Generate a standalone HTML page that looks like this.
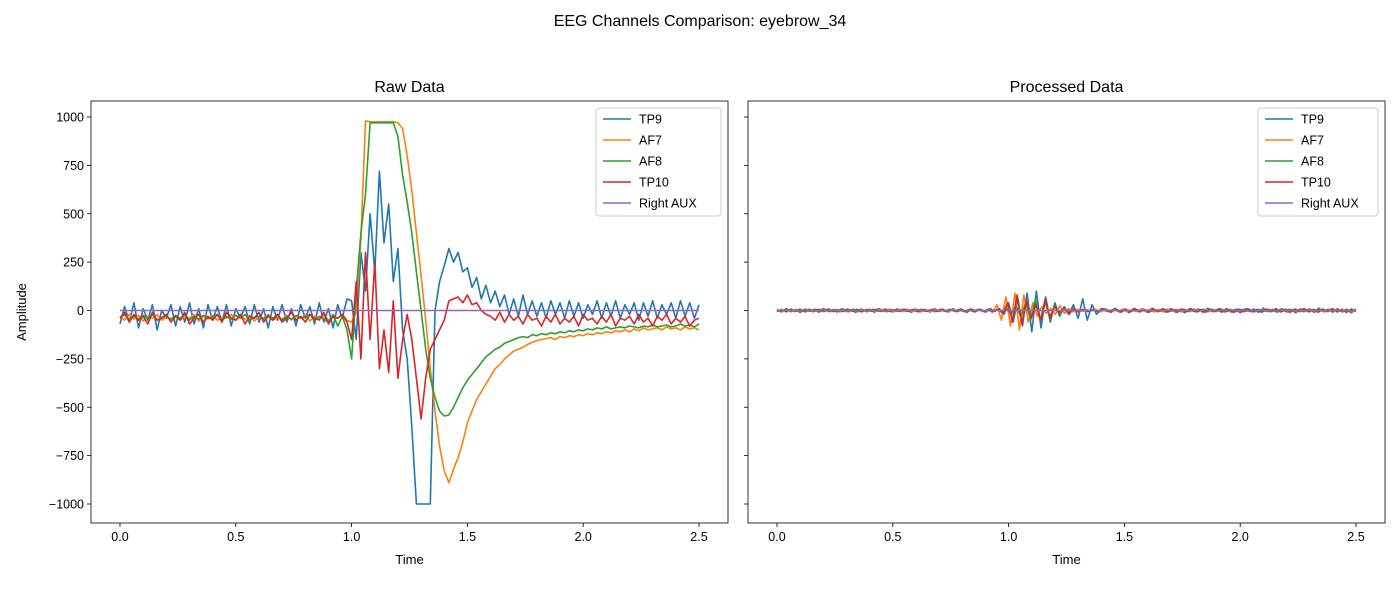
<!DOCTYPE html>
<html><head><meta charset="utf-8">
<style>
body{margin:0;background:#fff;}
svg{display:block;font-family:"Liberation Sans","DejaVu Sans",sans-serif;}
</style></head>
<body>
<svg id="chart" width="1400" height="600" viewBox="0 0 1400 600">
<rect width="1400" height="600" fill="#fff"/>
<text x="700" y="26" text-anchor="middle" font-size="16">EEG Channels Comparison: eyebrow_34</text>
</svg>
<script>
const channels = ["TP9","AF7","AF8","TP10","Right AUX"];
const colors = ["#1f77b4","#ff7f0e","#2ca02c","#d62728","#9467bd"];
const xTicks = [0,0.5,1.0,1.5,2.0,2.5];
const xTickLabels = ["0.0","0.5","1.0","1.5","2.0","2.5"];
const yTicks = [1000,750,500,250,0,-250,-500,-750,-1000];
const yTickLabels = ["1000","750","500","250","0","\u2212250","\u2212500","\u2212750","\u22121000"];

const rawTP9 = [-70,20,-60,40,-90,10,-50,30,-100,0,-40,30,-80,20,-60,40,-70,10,-90,30,-50,20,-60,30,-80,10,-40,20,-70,30,-60,10,-90,20,-50,30,-60,10,-80,30,-40,20,-70,40,-60,10,-90,30,-40,60,
50,-150,300,100,500,200,720,350,550,150,320,-100,-250,-600,-1000,-1000,-1000,-1000,0,150,230,320,250,300,200,220,120,170,60,130,40,100,20,80,-20,60,-30,80,
-20,50,-30,40,-40,50,-20,40,-40,50,-30,40,-40,30,-20,50,-40,40,-30,50,-40,30,-20,40,-50,40,-30,50,-40,30,-20,40,-40,50,-30,40,-40,30];
const rawAF7 = [-30,-50,-20,-45,-25,-55,-30,-40,-20,-50,-35,-45,-25,-50,-30,-40,-20,-55,-30,-45,-25,-50,-35,-40,-20,-50,-30,-45,-25,-55,-30,-40,-20,-50,-35,-45,-25,-50,-30,-40,-20,-55,-30,-45,-25,-50,-35,-40,-20,-50,-60,-10,
370,980,975,975,975,975,975,975,970,940,800,620,400,180,-50,-300,-520,-700,-830,-890,-820,-760,-680,-580,-520,-460,-420,-380,-340,-300,-280,-250,-230,-210,-200,-190,-175,-165,-155,-150,
-145,-140,-150,-135,-140,-130,-135,-125,-130,-120,-125,-115,-120,-110,-115,-105,-110,-100,-110,-95,-105,-90,-100,-95,-90,-100,-85,-95,-90,-100,-85,-95,-90,-100];
const rawAF8 = [-40,-20,-50,-30,-45,-25,-40,-20,-50,-35,-30,-45,-25,-40,-20,-50,-30,-45,-25,-40,-35,-20,-50,-30,-45,-25,-40,-20,-50,-35,-30,-45,-25,-40,-20,-50,-30,-45,-25,-40,-35,-20,-50,-30,-45,-60,-20,-80,-30,-100,
-250,100,400,600,970,970,970,970,970,970,900,700,560,400,200,0,-200,-350,-450,-520,-545,-540,-500,-450,-400,-360,-330,-300,-270,-240,-220,-200,-190,-170,-160,-150,-140,
-135,-140,-125,-130,-120,-125,-115,-120,-110,-115,-105,-110,-100,-105,-95,-100,-90,-95,-85,-95,-90,-85,-90,-80,-85,-90,-80,-85,-75,-85,-80,-75,-85,-80,-70,-80,-75,-85,-70];
const rawTP10 = [-40,-10,-60,-20,-50,-30,-70,-10,-50,-40,-20,-60,-30,-50,-10,-70,-40,-20,-60,-30,-50,-20,-60,-10,-40,-50,-20,-70,-30,-40,-10,-60,-30,-50,-20,-60,-40,-10,-50,-30,-60,-20,-40,-50,-10,-70,-30,-40,-20,-60,
-150,150,-250,300,-150,250,-300,-100,-320,50,-350,-150,-20,-150,-350,-560,-350,-200,-150,-100,-50,50,60,70,40,80,30,40,0,-20,-30,
-50,-10,-60,-20,-50,-30,-70,-20,-50,-40,-80,-30,-60,-20,-70,-40,-60,-30,-80,-20,-50,-40,-70,-30,-60,-20,-80,-40,-50,-30,-70,-20,-60,-40,-80,-30,-50,-20,-70,-40,-60,-30,-80,-50,-40];
const rawAUX = [0,0,0,0,0,0,0,0,0,0,0];

const procTP9 = [5,-8,10,-6,3,-10,8,-4,6,-9,10,-5,4,-8,9,-6,5,-10,8,-3,6,-9,10,-5,4,-8,9,-6,5,-10,8,-3,6,-9,10,-5,4,-8,9,-6,5,-10,8,-3,6,-9,10,-5,
10,-20,40,-60,60,-80,90,-110,100,-90,70,-60,40,-30,20,-20,30,-40,60,-50,30,-20,10,
8,-10,12,-8,6,-12,10,-5,8,-10,12,-6,5,-9,10,-8,6,-12,9,-5,8,-10,12,-6,5,-9,10,-8,6,-12,9,-5,8,-10,12,-6,5,-9,10,-8,6,-12,9,-5,8,-10,12,-6,5,-9,10,-8,6,-12,9];
const procAF7 = [-4,6,-8,5,-6,8,-5,7,-8,4,-6,8,-5,6,-8,5,-7,8,-4,6,-8,5,-6,8,-5,7,-8,4,-6,8,-5,6,-8,5,-7,8,-4,6,-8,5,-6,8,-5,7,-8,4,-6,8,
-10,30,-50,70,-80,90,-100,80,-60,40,-30,20,-15,10,-20,25,-15,10,-8,6,-5,4,-3,
6,-8,5,-6,8,-5,7,-8,4,-6,8,-5,6,-8,5,-7,8,-4,6,-8,5,-6,8,-5,7,-8,4,-6,8,-5,6,-8,5,-7,8,-4,6,-8,5,-6,8,-5,7,-8,4,-6,8,-5,6,-8,5,-7,8,-4,6,-8,5,-6,8];
const procAF8 = [3,-5,6,-4,5,-6,4,-3,6,-5,4,-6,5,-4,6,-3,5,-6,4,-5,6,-4,3,-6,5,-4,6,-5,4,-3,6,-5,4,-6,5,-4,6,-3,5,-6,4,-5,6,-4,3,-6,5,-4,
8,-15,25,-35,45,-50,60,-55,45,-35,25,-20,15,-10,8,-6,5,-4,3,-3,2,-2,2,
5,-6,4,-5,6,-4,3,-6,5,-4,6,-5,4,-3,6,-5,4,-6,5,-4,6,-3,5,-6,4,-5,6,-4,3,-6,5,-4,6,-5,4,-3,6,-5,4,-6,5,-4,6,-3,5,-6,4,-5,6,-4,3];
const procTP10 = [-6,4,-5,7,-4,6,-7,5,-4,6,-5,7,-6,4,-5,7,-4,6,-7,5,-4,6,-5,7,-6,4,-5,7,-4,6,-7,5,-4,6,-5,7,-6,4,-5,7,-4,6,-7,5,-4,6,-5,7,
-15,40,-60,80,-70,50,-40,30,-50,60,-40,20,-10,15,-20,10,-8,6,-5,4,-4,3,-2,
-8,6,-10,8,-6,10,-8,5,-9,7,-6,10,-8,6,-10,8,-6,10,-8,5,-9,7,-6,10,-8,6,-10,8,-6,10,-8,5,-9,7,-6,10,-8,6,-10,8,-6,10,-8,5,-9,7,-6,10,-8,6,-10,8,-6];
const procAUX = [0,0,0,0,0,0,0,0,0,0,0];

const NS="http://www.w3.org/2000/svg";
const svg=document.getElementById('chart');
function mk(tag,attrs,parent){const e=document.createElementNS(NS,tag);for(const k in attrs)e.setAttribute(k,attrs[k]);(parent||svg).appendChild(e);return e;}

const panels=[
 {name:"raw",title:"Raw Data",x0:91,x1:728,series:[rawTP9,rawAF7,rawAF8,rawTP10,rawAUX],showY:true,legX:596},
 {name:"processed",title:"Processed Data",x0:748,x1:1385,series:[procTP9,procAF7,procAF8,procTP10,procAUX],showY:false,legX:1258}
];
const y0=101,y1=523;
function yScale(v){return 310.5 - v*0.1935;}

panels.forEach(p=>{
  const xScale=t=>p.x0+29+t*(p.x1-p.x0-58)/2.5;
  const g=mk('g',{});
  
  
  const t=mk('text',{x:(p.x0+p.x1)/2,y:92,'text-anchor':'middle','font-size':16},g);t.textContent=p.title;
  
  
  xTicks.forEach((v,i)=>{const x=xScale(v);
    mk('line',{x1:x,x2:x,y1:y1,y2:y1+4,stroke:'#000','stroke-width':0.8},g);
    const l=mk('text',{x:x,y:y1+18,'text-anchor':'middle','font-size':12.5},g);l.textContent=xTickLabels[i];
    
    
  });
  yTicks.forEach((v,i)=>{const y=yScale(v);
    mk('line',{x1:p.x0-4,x2:p.x0,y1:y,y2:y,stroke:'#000','stroke-width':0.8},g);
    if(p.showY){const l=mk('text',{x:p.x0-7,y:y+4.5,'text-anchor':'end','font-size':12.5},g);l.textContent=yTickLabels[i];
      
      }
  });
  const xl=mk('text',{x:(p.x0+p.x1)/2,y:564,'text-anchor':'middle','font-size':13},g);xl.textContent="Time";
  
  
  if(p.showY){const yl=mk('text',{x:0,y:0,'text-anchor':'middle','font-size':13,transform:'translate(26,312) rotate(-90)'},g);yl.textContent="Amplitude";
    
    }
  const cid='clip-'+p.name;
  const cp=mk('clipPath',{id:cid},g);mk('rect',{x:p.x0,y:y0,width:p.x1-p.x0,height:y1-y0},cp);
  const sg=mk('g',{'clip-path':'url(#'+cid+')'},g);
  p.series.forEach((arr,si)=>{
    const n=arr.length;
    const d=arr.map((v,i)=>(i?'L':'M')+xScale(i*2.5/(n-1)).toFixed(1)+','+yScale(v).toFixed(1)).join('');
    const path=mk('path',{d:d,fill:'none',stroke:colors[si],'stroke-width':1.6,'stroke-linejoin':'round'},sg);
    
    
  });
  mk('rect',{x:p.x0,y:y0,width:p.x1-p.x0,height:y1-y0,fill:'none',stroke:'#000','stroke-width':0.8},g);
  const lg=mk('g',{},g);
  
  
  const lw=p.name==='raw'?125:120;
  mk('rect',{x:p.legX,y:108,width:lw,height:108,rx:3,fill:'#fff','fill-opacity':0.8,stroke:'#ccc'},lg);
  channels.forEach((c,i)=>{const y=119+i*21;
    const e=mk('g',{},lg);
    
    
    mk('line',{x1:p.legX+7,x2:p.legX+35,y1:y,y2:y,stroke:colors[i],'stroke-width':1.6},e);
    const tx=mk('text',{x:p.legX+43,y:y+4.5,'font-size':12.5},e);tx.textContent=c;
  });
});
</script>
</body></html>
